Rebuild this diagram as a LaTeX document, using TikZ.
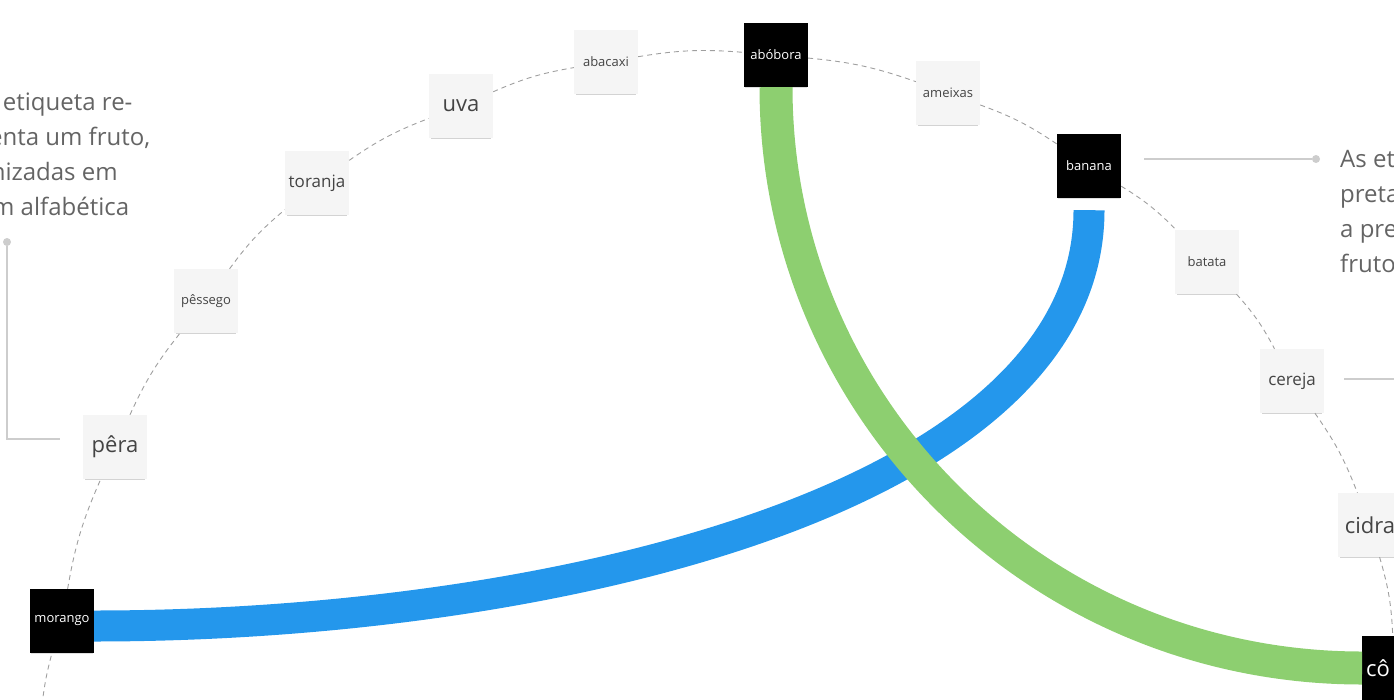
\documentclass[tikz,border=0pt]{standalone}
\usepackage{fontspec}
\setmainfont{Open Sans}
\usetikzlibrary{positioning,shadows}
\definecolor{verde}{RGB}{141,207,112}
\definecolor{azul}{RGB}{36,151,236}
\definecolor{caixa}{RGB}{245,245,245}
\definecolor{tinta}{RGB}{68,68,68}
\definecolor{cinzanota}{RGB}{100,100,100}
\definecolor{cinzaguia}{RGB}{205,205,205}

\begin{document}
\begin{tikzpicture}
  [x=1pt,y=-1pt,
   every node/.style={rectangle,minimum size=64pt,inner sep=3pt},
   fruta/.style={fill=caixa,text=tinta,
     drop shadow={shadow xshift=0pt,shadow yshift=-3pt,shadow scale=.94,opacity=.35}},
   preta/.style={fill=black,text=white,
     drop shadow={shadow xshift=0pt,shadow yshift=-2pt,shadow scale=.96,opacity=.25}},
   pq/.style={font=\fontsize{13}{15}\selectfont},
   md/.style={font=\fontsize{17}{20}\selectfont},
   gd/.style={font=\fontsize{22}{26}\selectfont},
   trilha/.style={draw=gray!75,line width=.9pt,dash pattern=on 5pt off 4pt},
   guia/.style={draw=cinzaguia,line width=1.2pt},
   ponto/.style={circle,fill=cinzaguia,minimum size=8pt,inner sep=0pt},
   texto/.style={align=left,text=cinzanota,minimum size=0pt,inner sep=0pt,
     font=\fontsize{24}{35}\selectfont}]
  \useasboundingbox (0,0) rectangle (1394,699);
  \clip (0,0) rectangle (1394,699);

  % etiquetas em arco
  \node[preta,pq] (morango) at (62,621) {morango};
  \node[fruta,gd] (pera) at (115,447) {pêra};
  \node[fruta,pq] (pessego) at (206,301) {pêssego};
  \node[fruta,md] (toranja) at (317,183) {toranja};
  \node[fruta,gd] (uva) at (461,106) {uva};
  \node[fruta,pq] (abacaxi) at (606,62) {abacaxi};
  \node[preta,pq] (abobora) at (776,55) {abóbora};
  \node[fruta,pq] (ameixas) at (948,93) {ameixas};
  \node[preta,pq] (banana) at (1089,166) {banana};
  \node[fruta,pq] (batata) at (1207,262) {batata};
  \node[fruta,md] (cereja) at (1292,381) {cereja};
  \node[fruta,gd] (cidra) at (1370,525) {cidra};
  \node[preta,gd,anchor=west,text width=56pt,align=left] (coco) at (1362,668) {cô};

  \coordinate (fundo) at (42,705);
  \draw[trilha] (fundo) to[bend left=4] (morango);
  \foreach \de/\para in {morango/pera,pera/pessego,pessego/toranja,toranja/uva,
      uva/abacaxi,abacaxi/abobora,abobora/ameixas,ameixas/banana,banana/batata,
      batata/cereja,cereja/cidra,cidra/coco}
    \draw[trilha] (\de) to[bend left=7] (\para);

  % ligacoes
  \draw[azul,line width=31pt] ([yshift=-12pt]banana.south)
    .. controls +(0,290) and +(453,0) .. ([yshift=-5pt]morango.east);
  \draw[verde,line width=33pt] (abobora.south)
    .. controls +(0,321) and +(-324,0) .. (coco.west);

  % notas
  \node[ponto] (pontoA) at (7,242) {};
  \node[ponto] (pontoB) at (1316,159) {};
  \coordinate (saidaC) at (1420,379);
  \draw[guia,shorten >=23pt] (pontoA) |- ([yshift=8pt]pera.west);
  \draw[guia,shorten <=23pt] (banana.east |- pontoB) -- (pontoB);
  \draw[guia,shorten <=20pt] (cereja.east |- saidaC) -- (saidaC);

  \node[texto,anchor=north west] (notaA) at (-60,92)
    {Cada etiqueta re-\\presenta um fruto,\\organizadas em\\ordem alfabética};
  \node[texto,anchor=north west] (notaB) at (1340,150)
    {As etiquetas\\pretas indicam\\a presença do\\fruto};
\end{tikzpicture}
\end{document}
